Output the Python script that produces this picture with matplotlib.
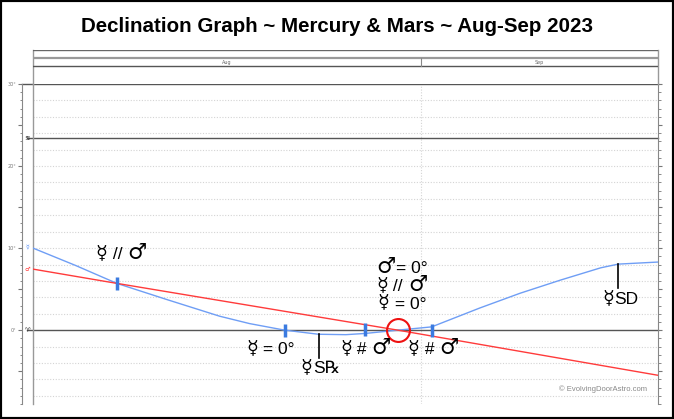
import matplotlib.pyplot as plt
import matplotlib.transforms as mtransforms
from matplotlib.patches import Rectangle
from matplotlib.ticker import MultipleLocator, FuncFormatter
from matplotlib.offsetbox import TextArea, HPacker, AnnotationBbox

# days counted from 2023-08-01 00:00
x_start = 1.15
x_end = 49.2
sep_1 = 31

merc_days = [1.15, 4.4, 7.6, 11.5, 15.5, 17.8, 20.5, 23.1, 25.2, 26.7, 29.2,
             31.8, 35.5, 38.6, 41.7, 44.8, 46.15, 49.2]
merc_dec = [10.0, 7.9, 5.7, 3.7, 1.7, 0.8, 0.0, -0.5, -0.55, -0.4, 0.0,
            0.4, 2.7, 4.5, 6.1, 7.6, 8.05, 8.3]

mars_days = [1.15, 7.6, 29.2, 49.2]
mars_dec = [7.44, 5.7, 0.0, -5.5]

# aspect ticks (blue)
aspect_days = [7.6, 20.5, 26.7, 31.8]
aspect_dec = [5.7, 0.0, 0.05, 0.0]

# stations
sr_day, sr_dec = 23.1, -0.5
sd_day, sd_dec = 46.15, 8.05

circle_day, circle_dec = 29.2, 0.0

blue = '#6f9ef5'
red = '#ff3b3b'
tick_blue = '#3b7be0'
txt_font = ['Liberation Sans', 'DejaVu Sans']

fig = plt.figure(figsize=(6.74, 4.19), dpi=100)
W, H = 674, 419

def fy(px):
    return (H - px) / H

ax = fig.add_axes([33 / W, fy(404), 625 / W, (404 - 84) / H])
hd = fig.add_axes([33 / W, fy(84), 625 / W, (84 - 50) / H])

ax.set_xlim(x_start, x_end)
ax.set_ylim(-9, 30)

# grid
for g in range(-8, 30, 2):
    if g != 0:
        ax.axhline(g, color='#d4d4d4', lw=0.8, ls=(0, (1, 1.5)), zorder=0)
ax.axvline(sep_1, color='#d4d4d4', lw=0.8, ls=(0, (1, 1.5)), zorder=0)
bt = mtransforms.blended_transform_factory(ax.transAxes, ax.transData)
for g in [0, 23.44]:
    ax.plot([-0.009, 1], [g, g], color='#555555', lw=1, transform=bt,
            clip_on=False, zorder=1)
ax.plot([-0.018, 1], [1, 1], color='#555555', lw=1, transform=ax.transAxes, clip_on=False)

# axes frame
for s in ['top', 'bottom']:
    ax.spines[s].set_visible(False)
ax.spines['left'].set_position(('outward', 11 * 0.72))
ax.spines['left'].set_color('#888888')
ax.spines['right'].set_color('#888888')
ax.axvline(x_start, color='#999999', lw=1, clip_on=False)
ax.xaxis.set_visible(False)
ax.yaxis.set_major_locator(MultipleLocator(5))
ax.yaxis.set_minor_locator(MultipleLocator(1))
ax.yaxis.set_major_formatter(FuncFormatter(lambda v, p: f'{int(v)}°' if v % 10 == 0 else ''))
ax.tick_params(axis='y', which='both', left=True, right=True, color='#777777',
               labelsize=3.5, labelcolor='#777777', pad=1)
ax.tick_params(axis='y', which='major', length=3, width=0.8)
ax.tick_params(axis='y', which='minor', length=1.8, width=0.6)

# small glyphs beside the axis
for txt, v, c in [('☿', merc_dec[0], blue), ('♂', mars_dec[0], red),
                  ('♈', 0, '#333333'), ('♋', 23.44, '#333333')]:
    ax.text(-0.0095, v, txt, transform=bt, fontsize=4.5, color=c,
            ha='center', va='center', family='DejaVu Sans')

# series
ax.plot(merc_days, merc_dec, color=blue, lw=1, zorder=3)
ax.plot(mars_days, mars_dec, color=red, lw=1, zorder=3)

for d, v in zip(aspect_days, aspect_dec):
    ax.plot([d, d], [v - 0.8, v + 0.8], color=tick_blue, lw=2.5, zorder=4,
            solid_capstyle='butt')

ax.plot([sr_day, sr_day], [sr_dec, sr_dec - 2.9], color='black', lw=1.2, zorder=4)
ax.plot([sd_day, sd_day], [sd_dec, sd_dec - 2.95], color='black', lw=1.2, zorder=4)

ax.plot([circle_day], [circle_dec], marker='o', ms=16.5, mfc='none', mec='#ee1111',
        mew=1.5, zorder=5)


def label(x, y, parts):
    boxes = []
    for p in parts:
        if p == '☿':
            props = dict(fontsize=14, family='DejaVu Sans', color='black')
        elif p == '♂':
            props = dict(fontsize=15.5, family='DejaVu Sans', fontweight='bold', color='black')
        else:
            props = dict(fontsize=12.5, family=txt_font, color='black')
        boxes.append(TextArea(p, textprops=props))
    pack = HPacker(children=boxes, align='baseline', pad=0, sep=0)
    ab = AnnotationBbox(pack, (x, y), xycoords='data', frameon=False,
                        box_alignment=(0.5, 0.5), pad=0, zorder=6)
    ax.add_artist(ab)


label(7.92, 9.4, ['☿', ' // ', '♂'])
label(19.4, -2.2, ['☿', ' = 0°'])
label(26.7, -2.2, ['☿', ' # ', '♂'])
label(31.9, -2.2, ['☿', ' # ', '♂'])
label(29.5, 7.7, ['♂', '= 0°'])
label(29.5, 5.5, ['☿', ' // ', '♂'])
label(29.5, 3.3, ['☿', ' = 0°'])
label(sr_day + 0.15, -4.6, ['☿', 'S℞'])
label(sd_day + 0.15, 3.9, ['☿', 'SD'])

ax.text(45.0, -7.2, '© EvolvingDoorAstro.com', fontsize=5.5, color='#888888',
        ha='center', va='center', family='Liberation Sans')

# header with month names
hd.set_xlim(x_start, x_end)
hd.set_ylim(0, 1)
hd.set_xticks([])
hd.set_yticks([])
for s in hd.spines.values():
    s.set_visible(False)
hd.plot([0, 0], [0, 1], color='#999999', lw=1, transform=hd.transAxes, clip_on=False)
hd.plot([1, 1], [0, 1], color='#999999', lw=1, transform=hd.transAxes, clip_on=False)
hd.axhline(1.0, color='#666666', lw=1)
hd.axhline(0.758, color='#999999', lw=1.6)
hd.axhline(0.515, color='#555555', lw=1)
hd.plot([sep_1, sep_1], [0.515, 0.758], color='#888888', lw=0.8)
hd.text((x_start + sep_1) / 2, 0.63, 'Aug', fontsize=3.5, color='#666666',
        ha='center', va='center')
hd.text((sep_1 + x_end) / 2, 0.63, 'Sep', fontsize=3.5, color='#666666',
        ha='center', va='center')

fig.text(0.5, fy(27), 'Declination Graph ~ Mercury & Mars ~ Aug-Sep 2023',
         ha='center', va='center', fontsize=14.8, fontweight='bold',
         family=['Liberation Sans Narrow', 'Liberation Sans', 'DejaVu Sans'])

fig.patches.append(Rectangle((0, 0), 1, 1, transform=fig.transFigure, fill=False,
                             edgecolor='black', lw=3, zorder=10))

fig.savefig('out.png', dpi=100)
